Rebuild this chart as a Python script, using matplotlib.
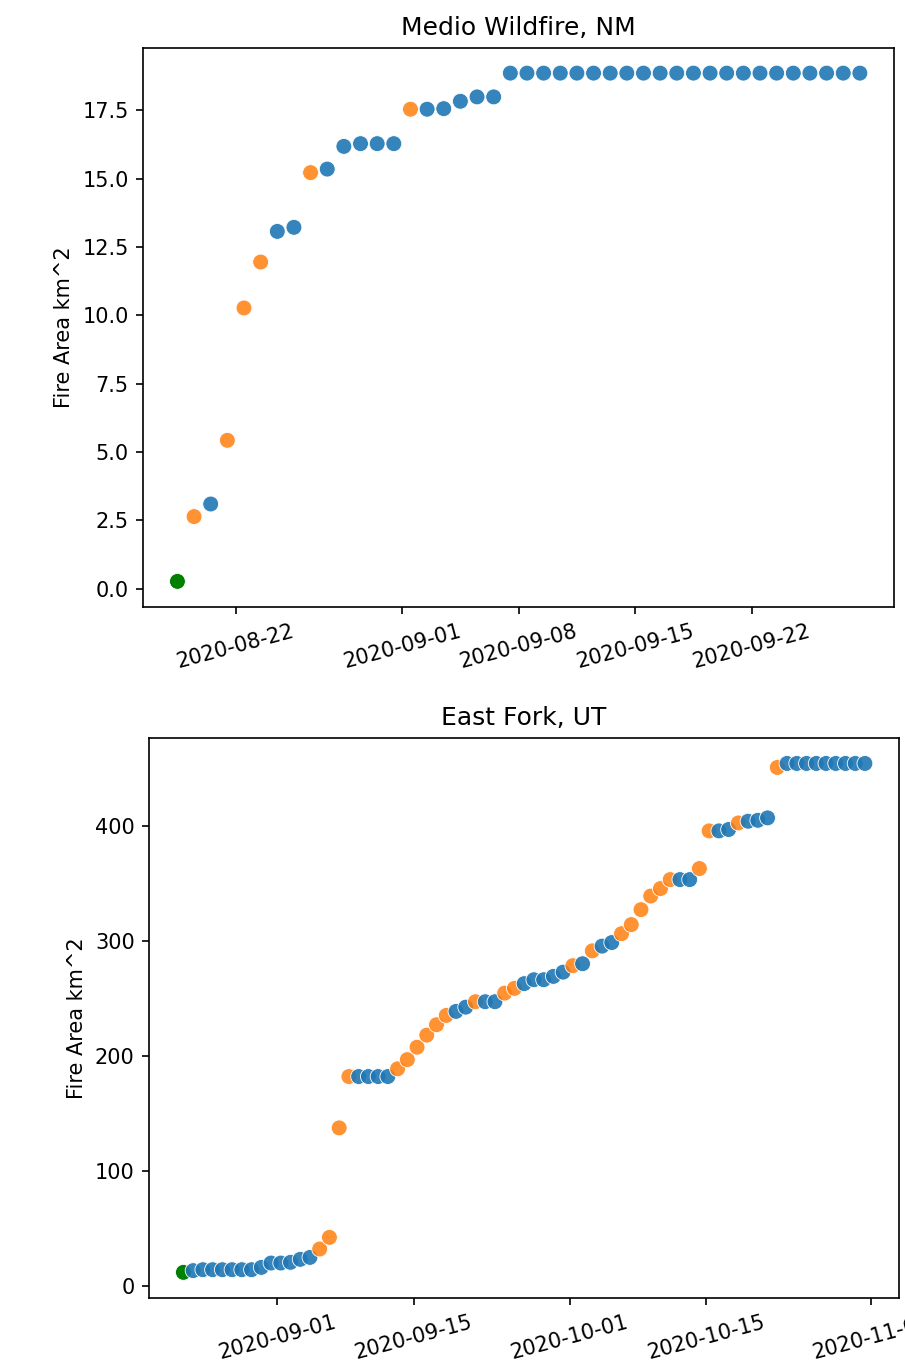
import matplotlib
matplotlib.use("Agg")
import matplotlib.pyplot as plt
import matplotlib.colors as mcolors
import pandas as pd

# ---------------- data ----------------
medio_title = "Medio Wildfire, NM"
medio_start = "2020-08-18 12:00"
medio_area = [0.27, 2.64, 3.10, 5.43, 10.27, 11.95, 13.07, 13.22, 15.22, 15.35,
              16.18, 16.28, 16.28, 16.28, 17.54, 17.54, 17.56, 17.83, 17.99, 17.99,
              18.86, 18.86, 18.86, 18.86, 18.86, 18.86, 18.86, 18.86, 18.86, 18.86,
              18.86, 18.86, 18.86, 18.86, 18.86, 18.86, 18.86, 18.86, 18.86, 18.86,
              18.86, 18.86]
medio_status = ["first", "grow", "flat", "grow", "grow", "grow", "flat", "flat", "grow", "flat",
                "flat", "flat", "flat", "flat", "grow", "flat", "flat", "flat", "flat", "flat",
                "flat", "flat", "flat", "flat", "flat", "flat", "flat", "flat", "flat", "flat",
                "flat", "flat", "flat", "flat", "flat", "flat", "flat", "flat", "flat", "flat",
                "flat", "flat"]

east_title = "East Fork, UT"
east_start = "2020-08-22 08:00"
east_area = [12.2, 13.7, 14.5, 14.5, 14.5, 14.5, 14.5, 14.5, 16.5, 20.3,
             20.3, 20.9, 23.5, 25.2, 32.5, 42.6, 137.7, 182.3, 182.3, 182.3,
             182.3, 182.3, 189.0, 197.0, 207.8, 218.3, 227.3, 235.4, 238.9, 242.6,
             247.3, 247.3, 247.3, 254.8, 258.9, 263.0, 266.4, 266.4, 269.3, 273.0,
             278.6, 280.3, 291.5, 295.6, 298.7, 306.4, 314.3, 327.3, 339.1, 345.6,
             353.4, 353.4, 353.4, 363.0, 395.7, 395.7, 396.9, 402.6, 404.1, 404.9,
             407.0, 450.8, 454.3, 454.3, 454.3, 454.3, 454.3, 454.3, 454.3, 454.3,
             454.3]
east_status = ["first", "flat", "flat", "flat", "flat", "flat", "flat", "flat", "flat", "flat",
               "flat", "flat", "flat", "flat", "grow", "grow", "grow", "grow", "flat", "flat",
               "flat", "flat", "grow", "grow", "grow", "grow", "grow", "grow", "flat", "flat",
               "grow", "flat", "flat", "grow", "grow", "flat", "flat", "flat", "flat", "flat",
               "grow", "flat", "grow", "flat", "flat", "grow", "grow", "grow", "grow", "grow",
               "grow", "flat", "flat", "grow", "grow", "flat", "flat", "grow", "flat", "flat",
               "flat", "grow", "flat", "flat", "flat", "flat", "flat", "flat", "flat", "flat",
               "flat"]

y_label = "Fire Area km^2"

# ---------------- styling ----------------
status_color = {"first": ("green", 1.0), "grow": ("#ff7f0e", 0.85), "flat": ("#1f77b4", 0.9)}

W, H, DPI = 905, 1370, 150
fig = plt.figure(figsize=(W / DPI, H / DPI), dpi=DPI)


def px_axes(left, top, right, bottom):
    return fig.add_axes([left / W, 1 - bottom / H, (right - left) / W, (bottom - top) / H])


def draw(ax, title, start, area, status):
    dates = pd.date_range(start, periods=len(area), freq="D")
    cols = [mcolors.to_rgba(status_color[s][0], status_color[s][1]) for s in status]
    ax.scatter(dates, area, c=cols, s=58, edgecolors="white", linewidths=0.4, zorder=2)
    ax.set_title(title, fontsize=12)
    ax.set_ylabel(y_label, fontsize=10)
    ax.tick_params(axis="x", labelrotation=15)


ax1 = px_axes(143.3, 47.7, 894.0, 606.8)
draw(ax1, medio_title, medio_start, medio_area, medio_status)

ax2 = px_axes(149.3, 738.0, 899.0, 1297.8)
draw(ax2, east_title, east_start, east_area, east_status)

fig.savefig("out.png", dpi=DPI)
